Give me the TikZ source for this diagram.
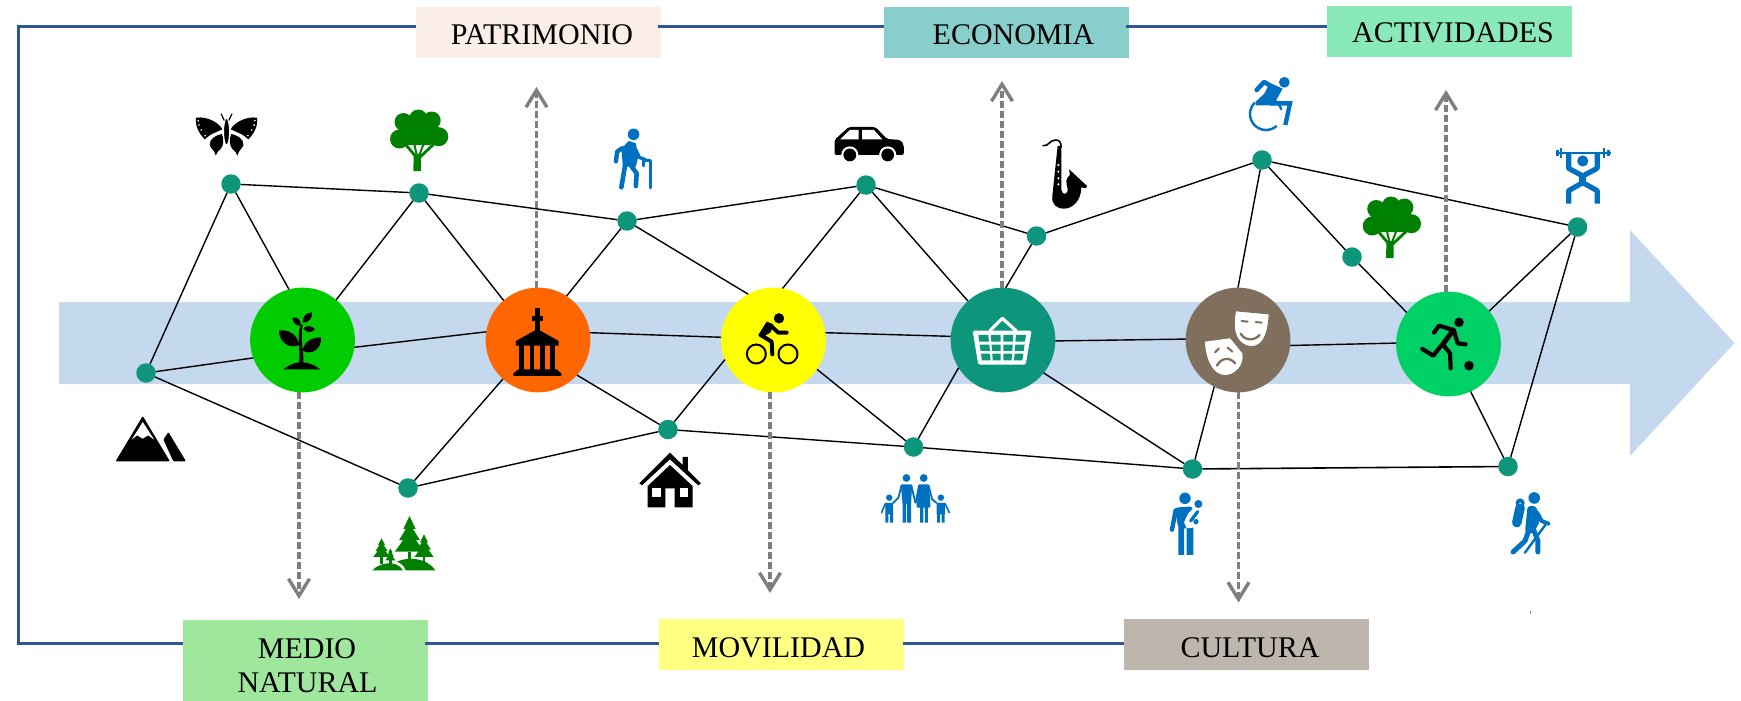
\documentclass[tikz,border=0pt]{standalone}
\usepackage{fontspec}
\setmainfont{Liberation Serif}
\usetikzlibrary{arrows.meta}
\definecolor{bandblue}{HTML}{C4D9EE}
\definecolor{framecol}{HTML}{2F5597}
\definecolor{teal}{HTML}{0E967C}
\definecolor{iconblue}{HTML}{0070C0}
\definecolor{icongreen}{HTML}{008000}
\definecolor{brownc}{HTML}{7F6F5C}
\definecolor{dashgray}{HTML}{7F7F7F}
\definecolor{pureyellow}{HTML}{FFFF00}
\tikzset{
  netdot/.style={circle,fill=teal,inner sep=0pt,outer sep=0pt,minimum size=19.5pt},
  hub/.style={circle,inner sep=0pt,outer sep=0pt,minimum size=104.8pt},
  catbox/.style={rectangle,inner sep=0pt,outer sep=0pt,minimum width=245pt,minimum height=51pt},
  lbl/.style={anchor=base,inner sep=0pt,font=\fontsize{30}{30}\selectfont,text=black},
  edge/.style={draw=black,line width=1.4pt},
  frameline/.style={draw=framecol,line width=3pt,line join=miter},
  flow/.style={draw=dashgray,line width=3.4pt,dash pattern=on 7pt off 3pt,
    -{Straight Barb[length=17pt,width=21pt,line width=3.4pt]}},
  st/.style={line cap=round,line join=round},
  z1/.style={shift={(0,0)},x=.3827pt,y=-.3333pt},
  z2/.style={shift={(580,0)},x=.3827pt,y=-.3333pt},
  z3/.style={shift={(1160,0)},x=.3705pt,y=-.3333pt},
  z4/.style={shift={(0,351)},x=.3827pt,y=-.3333pt},
  z5/.style={shift={(580,351)},x=.3827pt,y=-.3333pt},
  z6/.style={shift={(1160,351)},x=.3705pt,y=-.3333pt},
  z7/.style={shift={(250,285)},x=.3333pt,y=-.3333pt},
  z8/.style={shift={(720,285)},x=.3333pt,y=-.3333pt},
  z9/.style={shift={(1185,285)},x=.3333pt,y=-.3333pt},
}
\newcommand\treeicon[2]{%
  \begin{scope}[shift={(#1,#2)},icongreen]
    \fill[icongreen] (28.3,8.5) circle[radius=9pt] (13.5,12) circle[radius=9pt]
      (41.7,10.5) circle[radius=9pt] (9.5,29) circle[radius=9.5pt]
      (48.8,26.7) circle[radius=9.5pt];
    \fill[icongreen] (10,12) -- (45,10) -- (52,30) -- (40,35) -- (18,35) -- (8,30) -- cycle;
    \draw[icongreen,line width=2.8pt,st] (27,48) -- (16,35);
    \draw[icongreen,line width=2.8pt,st] (29,48) -- (45,33);
    \draw[icongreen,line width=2pt] (27,46) -- (24,33);
    \draw[icongreen,line width=2pt] (29,46) -- (34,33);
    \fill[icongreen] (23.3,61) -- (23.8,44) -- (30.8,44) -- (31,61) -- cycle;
  \end{scope}}
\newcommand\spruce[5]{%
  \fill[icongreen] (#1,#2)
    -- ({#1+.42*#4},{#2+.36*(#3-#2)}) -- ({#1+.24*#4},{#2+.36*(#3-#2)})
    -- ({#1+.72*#4},{#2+.68*(#3-#2)}) -- ({#1+.45*#4},{#2+.68*(#3-#2)})
    -- ({#1+#4},#3) -- ({#1-#4},#3)
    -- ({#1-.45*#4},{#2+.68*(#3-#2)}) -- ({#1-.72*#4},{#2+.68*(#3-#2)})
    -- ({#1-.24*#4},{#2+.36*(#3-#2)}) -- ({#1-.42*#4},{#2+.36*(#3-#2)}) -- cycle;
  \fill[icongreen] ({#1-3},#3) rectangle ({#1+3},#5);}
\begin{document}
\begin{tikzpicture}[x=1pt,y=-1pt]
\useasboundingbox (0,0) rectangle (1741,701);
% band arrow
\fill[bandblue] (59,302) -- (1630,302) -- (1630,230) -- (1734.5,343) -- (1630,456) -- (1630,384) -- (59,384) -- cycle;
% category boxes
\node[catbox,fill={rgb,255:red,251;green,238;blue,230}] (pat) at (538.5,32.5) {};
\node[catbox,fill={rgb,255:red,136;green,207;blue,204}] (eco) at (1006.5,32.5) {};
\node[catbox,fill={rgb,255:red,138;green,233;blue,184}] (act) at (1449.5,31.5) {};
\node[catbox,fill={rgb,255:red,160;green,231;blue,158},minimum height=81pt] (med) at (305.5,660.5) {};
\node[catbox,fill={rgb,255:red,255;green,255;blue,130}] (mov) at (781.5,644.5) {};
\node[catbox,fill={rgb,255:red,190;green,182;blue,172}] (cul) at (1246.5,644.5) {};
\node[lbl] (patT) at (542,45) {PATRIMONIO};
\node[lbl] (ecoT) at (1013.5,45) {ECONOMIA};
\node[lbl] (actT) at (1453,42.5) {ACTIVIDADES};
\node[lbl] (medT) at (307,658) {MEDIO};
\node[lbl] (natT) at (307.5,692) {NATURAL};
\node[lbl] (movT) at (778.5,657) {MOVILIDAD};
\node[lbl] (culT) at (1250,657) {CULTURA};
% frame
\coordinate (tl) at (18,27);
\coordinate (bl) at (18,643);
\draw[frameline] (pat.west |- tl) -- (tl) -- (bl) -- (med.west |- bl);
\draw[frameline] ([xshift=-3pt]pat.east |- tl) -- (eco.west |- tl);
\draw[frameline] ([xshift=-3pt]eco.east |- tl) -- (act.west |- tl);
\draw[frameline] ([xshift=-3pt]med.east |- bl) -- (mov.west |- bl);
\draw[frameline] ([xshift=-1pt]mov.east |- bl) -- (cul.west |- bl);
% hubs
\node[hub,fill={rgb,255:red,0;green,204;blue,0}] (c1) at (302.5,340) {};
\node[hub,fill={rgb,255:red,255;green,102;blue,0}] (c2) at (538,340) {};
\node[hub,fill=pureyellow] (c3) at (773.5,340) {};
\node[hub,fill=teal] (c4) at (1003,340) {};
\node[hub,fill=brownc] (c5) at (1238,340) {};
\node[hub,fill={rgb,255:red,0;green,209;blue,102}] (c6) at (1448.5,344) {};
% dots
\node[netdot] (a) at (146,373) {};
\node[netdot] (b) at (231,184) {};
\node[netdot] (cc) at (419,193) {};
\node[netdot] (d) at (627,221) {};
\node[netdot] (e) at (866,185) {};
\node[netdot] (f) at (1036.5,236) {};
\node[netdot] (g) at (1262,160) {};
\node[netdot] (h) at (1352,257) {};
\node[netdot] (i) at (1577.5,227) {};
\node[netdot] (j) at (1508,466.5) {};
\node[netdot] (k) at (1192.5,469) {};
\node[netdot] (l) at (913.5,447) {};
\node[netdot] (m) at (668,429.5) {};
\node[netdot] (n) at (408,488) {};
% edges
\draw[edge] (a) -- (b);
\draw[edge] (b) -- (c1.105);
\draw[edge] (b) -- (cc);
\draw[edge] (cc) -- (c1.50);
\draw[edge] (cc) -- (c2.131);
\draw[edge] (cc) -- (d);
\draw[edge] (d) -- (c2.57);
\draw[edge] (d) -- (e);
\draw[edge] (d) -- (c3.119);
\draw[edge] (e) -- (c3.80);
\draw[edge] (e) -- (c4.132);
\draw[edge] (e) -- (f);
\draw[edge] (f) -- (c4.87);
\draw[edge] (f) -- (g);
\draw[edge] (g) -- (c5.90);
\draw[edge] (g) -- (h);
\draw[edge] (g) -- (i);
\draw[edge] (h) -- (c6.143);
\draw[edge] (i) -- (c6.39);
\draw[edge] (i) -- (j);
\draw[edge] (c6.295) -- (j);
\draw[edge,line width=1.6pt] (j) -- (k);
\draw[edge] (k) -- (c5.243);
\draw[edge] (k) -- (c4.321);
\draw[edge] (k) -- (l);
\draw[edge] (l) -- (m);
\draw[edge] (l) -- (c3.326);
\draw[edge] (l) -- (c4.212);
\draw[edge] (m) -- (c3.202);
\draw[edge] (m) -- (c2.318);
\draw[edge] (m) -- (n);
\draw[edge] (n) -- (c2.228);
\draw[edge] (n) -- (a);
\draw[edge] (a) -- (c1.200);
\draw[edge] (c1.352.5) -- (c2.171.4);
\draw[edge] (c2.8) -- (c3.177.5);
\draw[edge] (c3.8.6) -- (c4.176.4);
\draw[edge] (c4.359) -- (c5.179);
\draw[edge] (c5.354.6) -- (c6.179);
% dashed flows
\coordinate (t1) at (299,599);
\coordinate (t2) at (536.5,87);
\coordinate (t3) at (770,593);
\coordinate (t4) at (1002,81);
\coordinate (t5) at (1238.5,602.5);
\coordinate (t6) at (1446,90);
\draw[flow] (t1 |- c1.south) -- (t1);
\draw[flow] (t2 |- c2.north) -- (t2);
\draw[flow] (t3 |- c3.south) -- (t3);
\draw[flow] (t4 |- c4.north) -- (t4);
\draw[flow] (t5 |- c5.south) -- (t5);
\draw[flow] (t6 |- c6.north) -- (t6);
% ---------- icons ----------
% plant
\begin{scope}[z7]
  \fill (100,253) .. controls (120,238) and (135,232) .. (155,232) .. controls (175,232) and (195,240) .. (211,253) -- cycle;
  \fill (147,236) .. controls (152,200) and (140,160) .. (152,118) -- (158,118) .. controls (150,160) and (162,200) .. (160,236) -- cycle;
  \fill (87,137) .. controls (112,132) and (142,146) .. (148,180) .. controls (125,192) and (88,178) .. (87,137) -- cycle;
  \fill (213,157) .. controls (190,158) and (163,165) .. (158,197) .. controls (185,212) and (216,192) .. (213,157) -- cycle;
  \fill (127,98) .. controls (140,95) and (155,102) .. (152,122) .. controls (138,124) and (128,112) .. (127,98) -- cycle;
  \fill (186,82) .. controls (168,84) and (156,95) .. (158,113) .. controls (176,114) and (188,100) .. (186,82) -- cycle;
  \fill (160,130) .. controls (170,120) and (185,122) .. (195,132) .. controls (185,145) and (170,145) .. (160,130) -- cycle;
\end{scope}
% church
\begin{scope}[z7]
  \fill (854,68) rectangle (870,135);
  \fill (845,92) rectangle (878,107);
  \fill (798,168) -- (862,132) -- (926,168) -- (926,182) -- (798,182) -- cycle;
  \fill (808,180) rectangle (823,255);
  \fill (839,180) rectangle (853,255);
  \fill (870,180) rectangle (885,255);
  \fill (901,180) rectangle (916,255);
  \fill (790,265) -- (805,253) -- (920,253) -- (934,265) -- (934,273) -- (790,273) -- cycle;
\end{scope}
% cyclist
\begin{scope}[z8]
  \fill (177,100) circle[radius=5.2pt];
  \draw[line width=2pt] (109,207) circle[radius=9.5pt];
  \draw[line width=2pt] (204,207) circle[radius=9.5pt];
  \fill[st] (115,150) -- (140,110) -- (160,118) -- (152,142) -- (125,158) -- cycle;
  \draw[st,line width=4pt] (152,122) -- (175,143) -- (200,143);
  \draw[st,line width=4pt] (122,150) -- (155,170) -- (157,208);
\end{scope}
% basket
\begin{scope}[z8]
  \draw[white,line width=3.3pt,st] (810,137) -- (847,100) -- (888,137);
  \fill[white,rounded corners=1.5pt] (758,137) -- (935,137) -- (917,239) -- (775,239) -- cycle;
  \fill[teal] (775,150) -- (805,150) -- (807,170) -- (778,170) -- cycle;
  \fill[teal] (813,150) -- (842,150) -- (842,170) -- (814,170) -- cycle;
  \fill[teal] (850,150) -- (880,150) -- (879,170) -- (850,170) -- cycle;
  \fill[teal] (888,150) -- (918,150) -- (915,170) -- (886,170) -- cycle;
  \fill[teal] (779,179) -- (808,179) -- (810,198) -- (782,198) -- cycle;
  \fill[teal] (815,179) -- (842,179) -- (842,198) -- (816,198) -- cycle;
  \fill[teal] (850,179) -- (878,179) -- (877,198) -- (850,198) -- cycle;
  \fill[teal] (886,179) -- (914,179) -- (911,198) -- (884,198) -- cycle;
  \fill[teal] (783,206) -- (810,206) -- (812,226) -- (786,226) -- cycle;
  \fill[teal] (817,206) -- (842,206) -- (842,226) -- (818,226) -- cycle;
  \fill[teal] (850,206) -- (876,206) -- (875,226) -- (850,226) -- cycle;
  \fill[teal] (884,206) -- (910,206) -- (907,226) -- (882,226) -- cycle;
\end{scope}
% masks
\begin{scope}[z9]
  \fill[white] (60,170) -- (135,160) -- (150,178) -- (172,205) .. controls (178,240) and (150,270) .. (120,270) .. controls (85,270) and (62,225) .. (60,170) -- cycle;
  \draw[brownc,line width=2.4pt,fill=white] (150,75) -- (255,85) .. controls (252,130) and (245,185) .. (200,187) .. controls (160,185) and (135,150) .. (150,75) -- cycle;
  \draw[brownc,line width=2pt,st] (170,108) -- (188,110);
  \draw[brownc,line width=2pt,st] (212,111) -- (230,113);
  \draw[brownc,line width=2.3pt,st] (167,146) .. controls (180,168) and (208,168) .. (224,150);
  \draw[brownc,line width=2pt,st] (90,202) -- (102,190);
  \draw[brownc,line width=2pt,st] (128,188) -- (142,200);
  \draw[brownc,line width=2.3pt,st] (96,242) .. controls (108,218) and (135,215) .. (150,235);
\end{scope}
% footballer
\begin{scope}[z9]
  \fill (822,112) circle[radius=4.8pt];
  \fill (852,242) circle[radius=4.8pt];
  \draw[st,line width=4.2pt] (747,143) -- (762,122) -- (805,135);
  \draw[st,line width=5pt] (805,135) -- (772,180);
  \draw[st,line width=4.2pt] (808,140) -- (818,175) -- (842,178);
  \draw[st,line width=4.2pt] (770,180) -- (745,212) -- (712,192);
  \draw[st,line width=4.2pt] (775,180) -- (795,205) -- (797,250);
\end{scope}
% butterfly
\begin{scope}[z1]
  \foreach \s in {1,-1}{
    \begin{scope}[shift={(592,0)},xscale=\s]
      \fill (-80,353) .. controls (-47,348) and (-17,372) .. (-11,388) -- (-30,398) .. controls (-42,402) and (-50,412) .. (-57,418) .. controls (-72,400) and (-82,380) .. (-80,353) -- cycle;
      \fill (-12,402) .. controls (-24,404) and (-46,415) .. (-44,435) .. controls (-42,445) and (-32,450) .. (-28,467) .. controls (-24,455) and (-20,450) .. (-16,448) .. controls (-8,438) and (-6,420) .. (-12,402) -- cycle;
      \draw[st,line width=1.2pt] (0,375) -- (-14,342);
      \fill[white] (-74,362) circle[radius=.9pt] (-72,375) circle[radius=.9pt] (-66,390) circle[radius=.9pt] (-56,407) circle[radius=.9pt];
    \end{scope}}
  \draw[white,line width=1pt,fill=black] (592,395) circle[x radius=3pt,y radius=13.5pt];
\end{scope}
% trees
\treeicon{390}{110}
\treeicon{1362.7}{197}
% old man
\begin{scope}[z2]
\begin{scope}[color=iconblue]
  \fill[iconblue] (140,403) circle[radius=5.8pt];
  \fill[iconblue,st] (108,445) -- (128,423) -- (146,430) -- (152,470) -- (146,500) -- (112,500) -- cycle;
  \draw[st,line width=4.4pt] (110,445) -- (97,455) -- (94,484);
  \draw[st,line width=4.6pt] (118,495) -- (108,562);
  \draw[st,line width=4.6pt] (132,495) -- (148,520) -- (146,558);
  \draw[st,line width=3.4pt] (146,450) -- (155,472) -- (172,480);
  \draw[st,line width=2.6pt] (166,482) -- (166,498);
  \draw[st,line width=2.6pt] (172,482) -- (184,482) -- (184,564);
\end{scope}
\end{scope}
% car
\begin{scope}[z2]
  \fill[rounded corners=2pt] (665,430) -- (665,420) -- (702,381) -- (772,381) -- (802,417) -- (838,420) -- (846,435) -- (846,465) -- (665,465) -- cycle;
  \fill[white] (680,418) -- (705,390) -- (728,390) -- (728,418) -- cycle;
  \fill[white] (737,390) -- (768,390) -- (790,418) -- (737,418) -- cycle;
  \fill[white] (705,465) circle[radius=8.6pt] (804,465) circle[radius=8.6pt];
  \fill (705,465) circle[radius=6.4pt] (804,465) circle[radius=6.4pt];
\end{scope}
% saxophone
\begin{scope}[z2]
  \draw[line width=1.6pt,st] (1210,437) .. controls (1225,440) and (1226,420) .. (1243,420) .. controls (1254,420) and (1257,428) .. (1257,442);
  \fill (1248,438) -- (1258,438) -- (1258,570) .. controls (1260,588) and (1276,585) .. (1274,565) .. controls (1270,550) and (1268,535) .. (1280,525) -- (1278,508) -- (1325,558) -- (1322,565) -- (1310,562) .. controls (1310,600) and (1288,626) .. (1265,626) .. controls (1245,626) and (1232,612) .. (1234,590) -- cycle;
  \fill[white] (1250,495) circle[radius=1.2pt] (1250,515) circle[radius=1.2pt] (1250,535) circle[radius=1.2pt] (1250,553) circle[radius=1.2pt];
\end{scope}
% wheelchair
\begin{scope}[shift={(1240,70)},x=.3333pt,y=-.3333pt,color=iconblue]
  \fill[iconblue] (133,37) circle[radius=5.4pt];
  \draw[iconblue,st,line width=4.6pt] (50,60) -- (72,36) -- (110,58);
  \fill[iconblue,st] (70,30) -- (128,56) -- (100,106) -- (48,106) -- (46,96) -- (72,72) -- (84,50) -- cycle;
  \draw[iconblue,line width=4.4pt,line join=miter] (90,100) -- (150,100) -- (136,165);
  \draw[iconblue,line width=2.4pt] (78,132) ++(135:16pt) arc[start angle=135,end angle=312,radius=16pt];
  \draw[iconblue,line width=2.4pt] (78,132) ++(15:16pt) arc[start angle=15,end angle=60,radius=16pt];
\end{scope}
% weightlifter
\begin{scope}[z3,color=iconblue]
  \draw[line width=2pt] (1068,459) -- (1217,459);
  \draw[line width=2.4pt] (1083,445) -- (1083,473);
  \draw[line width=2.4pt] (1073,450) -- (1073,468);
  \draw[line width=2.4pt] (1199,445) -- (1199,473);
  \draw[line width=2.4pt] (1210,450) -- (1210,468);
  \fill[iconblue] (1141,483) circle[radius=5.6pt];
  \draw[line width=5.2pt,line join=round] (1103,459) -- (1103,505) -- (1141,528) -- (1180,505) -- (1180,459);
  \draw[line width=7pt] (1141,520) -- (1141,552);
  \draw[line width=5.2pt,line join=round] (1103,611) -- (1103,572) -- (1141,548) -- (1180,572) -- (1180,611);
\end{scope}
% mountain
\begin{scope}[z4]
  \fill[rounded corners=1pt] (373,195) -- (444,331) -- (302,331) -- cycle;
  \fill[white] (373,213) -- (403,266) -- (387,253) -- (373,263) -- (358,253) -- (344,266) -- cycle;
  \fill[rounded corners=1pt] (440,243) -- (486,331) -- (453,331) -- (427,266) -- cycle;
\end{scope}
% forest
\begin{scope}[z4]
  \spruce{1070}{495}{602}{38}{628}
  \spruce{1108}{550}{618}{25}{636}
  \spruce{997}{562}{618}{22}{640}
  \spruce{1020}{592}{628}{13}{640}
  \fill[icongreen] (973,658) .. controls (990,636) and (1035,624) .. (1053,658) -- cycle;
  \fill[icongreen] (1037,632) .. controls (1070,615) and (1115,622) .. (1138,658) -- (1060,658) .. controls (1058,648) and (1050,638) .. (1037,632) -- cycle;
\end{scope}
% house
\begin{scope}[z5]
  \fill (155,397) -- (235,305) -- (268,342) -- (268,318) -- (282,318) -- (282,358) -- (316,397) -- (309,403) -- (235,325) -- (162,403) -- cycle;
  \fill (177,405) -- (235,342) -- (294,405) -- (294,469) -- (247,469) -- (247,412) -- (223,412) -- (223,469) -- (177,469) -- cycle;
  \fill[white] (188,412) rectangle (212,438);
  \fill[white] (260,412) rectangle (283,438);
\end{scope}
% family
\begin{scope}[z5,color=iconblue]
  \fill[iconblue] (853,381) circle[radius=3.9pt] (898,381) circle[radius=3.9pt] (808,440) circle[radius=3.2pt] (943,440) circle[radius=3.2pt];
  \fill[iconblue,rounded corners=1pt] (838,400) -- (868,400) -- (865,460) -- (843,460) -- cycle;
  \fill[iconblue] (843,455) rectangle (852,515) (855,455) rectangle (865,515);
  \fill[iconblue,rounded corners=1pt] (884,400) -- (912,400) -- (916,470) -- (879,470) -- cycle;
  \fill[iconblue] (889,465) rectangle (897,515) (901,465) rectangle (909,515);
  \draw[line width=1.8pt,st] (840,404) -- (832,440) -- (818,456);
  \draw[line width=1.8pt,st] (866,404) -- (876,455);
  \draw[line width=1.8pt,st] (886,404) -- (877,455);
  \draw[line width=1.8pt,st] (911,404) -- (920,445) -- (932,456);
  \fill[iconblue] (798,456) rectangle (818,490) (932,456) rectangle (954,490);
  \fill[iconblue] (798,488) rectangle (806,515) (810,488) rectangle (818,515);
  \fill[iconblue] (933,488) rectangle (941,515) (945,488) rectangle (953,515);
  \draw[line width=1.6pt,st] (798,458) -- (788,485);
  \draw[line width=1.6pt,st] (954,458) -- (965,485);
\end{scope}
% father with baby
\begin{scope}[shift={(1160,485)},x=.3333pt,y=-.3333pt,color=iconblue]
  \fill[iconblue] (75,40) circle[radius=5.7pt];
  \fill[iconblue,rounded corners=3pt] (44,68) -- (98,64) -- (100,130) -- (55,130) -- cycle;
  \fill[iconblue] (55,125) rectangle (72,210) (80,125) rectangle (100,210);
  \draw[st,line width=4.4pt] (47,76) -- (36,134);
  \fill[white] (85,85) -- (100,70) -- (125,80) -- (125,125) -- (80,130) -- (72,112) -- cycle;
  \fill[iconblue] (115,57) circle[radius=4pt];
  \draw[st,line width=3.2pt] (113,80) -- (92,108);
  \fill[iconblue] (108,110) circle[radius=2.7pt];
\end{scope}
% hiker
\begin{scope}[z6,color=iconblue]
  \fill[iconblue] (1010,441) circle[radius=5.8pt];
  \draw[line width=9.5pt,st] (972,470) -- (963,515);
  \fill[iconblue] (972,456) circle[radius=4.6pt];
  \fill[white] (972,457) circle[radius=.9pt];
  \fill[iconblue,rounded corners=3pt] (992,465) -- (1015,465) -- (1026,510) -- (1007,548) -- (985,545) -- cycle;
  \draw[line width=4pt,st] (1018,485) -- (1030,510) -- (1048,518);
  \draw[line width=2.4pt,st] (1040,522) -- (985,605);
  \draw[line width=5pt,st] (995,540) -- (985,570) -- (953,603);
  \draw[line width=5pt,st] (1010,540) -- (1020,570) -- (1020,603);
\end{scope}
% speck
\fill[iconblue!70!white] (1529.6,611) rectangle (1530.8,613.5);
\end{tikzpicture}
\end{document}
